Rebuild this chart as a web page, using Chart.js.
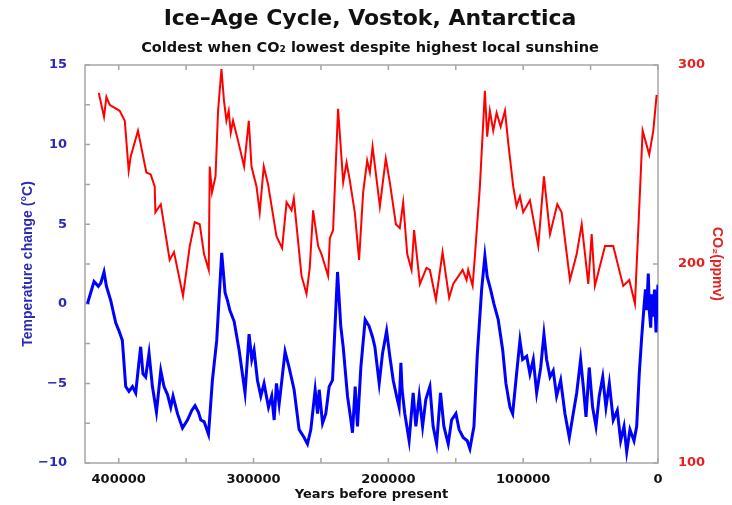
<!DOCTYPE html>
<html>
<head>
<meta charset="utf-8">
<script src="https://cdn.jsdelivr.net/npm/chart.js@4"></script>
<style>
  html, body { margin: 0; padding: 0; background: #ffffff; }
  #wrap { width: 732px; height: 505px; }
</style>
</head>
<body>
<div id="wrap"><canvas id="chart" width="732" height="505"></canvas></div>
<script>
// Vostok ice core, years before present
const tempYears = [
  423200, 418300, 415100, 413300, 410900, 409100, 405900, 402200, 399800, 397300,
  394800, 392400, 389800, 387400, 385400, 383700, 382000, 380000, 377500, 375000,
  372000, 368800, 366400, 363800, 361400, 359700, 356400, 352700, 349000, 345800,
  343400, 340900, 339100, 336700, 333400, 330500, 327300, 323600, 321100, 319300,
  317600, 314400, 310700, 306300, 303300, 301300, 299600, 297100, 294600, 292200,
  288900, 286500, 284700, 283000, 281000, 276600, 273600, 269900, 266200, 262500,
  260000, 257500, 254300, 252500, 251300, 248800, 246400, 243900, 241400, 237700,
  235300, 233500, 230300, 227800, 226600, 224600, 222900, 220400, 217200, 214300,
  211700, 210000, 206800, 204300, 201300, 198900, 196400, 193900, 192000, 190700,
  189800, 187800, 184600, 181600, 179600, 177100, 174600, 172200, 169200, 166800,
  164200, 161300, 158800, 155600, 153100, 149900, 147500, 144500, 141500, 139500,
  136500, 134100, 130800, 128400, 126700, 124200, 121700, 118500, 115200, 112800,
  109800, 107800, 104900, 102400, 100400, 97400, 95000, 92500, 90000, 87000,
  84600, 82600, 80100, 77700, 75200, 72200, 69000, 65800, 62900, 60300,
  57400, 55400, 53400, 51000, 48500, 46000, 43600, 41000, 38600, 36100,
  33200, 30200, 27700, 25200, 23200, 20800, 17800, 15800, 13900, 12100,
  10400, 9300, 8400, 7200, 6400, 5400, 4600, 3500, 2600, 1500,
  700, 0
];
const tempValues = [
  0.0, 1.4, 1.1, 1.3, 2.0, 1.1, 0.2, -1.2, -1.7, -2.3,
  -5.2, -5.5, -5.2, -5.6, -4.0, -2.7, -4.4, -4.6, -3.1, -5.2,
  -6.8, -4.2, -5.2, -5.7, -6.5, -5.8, -6.9, -7.8, -7.3, -6.7,
  -6.4, -6.8, -7.3, -7.4, -8.2, -4.8, -2.3, 3.2, 0.7, 0.2,
  -0.4, -1.1, -2.9, -5.6, -1.9, -3.5, -2.9, -4.8, -5.8, -5.0,
  -6.5, -5.8, -7.3, -5.0, -6.3, -3.0, -4.0, -5.4, -7.9, -8.4,
  -8.8, -7.9, -5.4, -6.9, -5.4, -7.5, -6.9, -5.2, -4.8, 2.0,
  -1.4, -2.7, -5.8, -7.3, -8.1, -5.2, -7.7, -4.0, -1.0, -1.4,
  -2.1, -2.7, -5.0, -3.1, -1.7, -3.3, -4.8, -5.8, -6.5, -3.7,
  -5.4, -6.9, -8.6, -5.6, -7.7, -5.8, -7.7, -6.0, -5.2, -7.7,
  -8.8, -5.6, -7.7, -8.8, -7.3, -6.9, -7.9, -8.4, -8.6, -9.1,
  -7.7, -3.3, 0.9, 3.0, 1.7, 0.9, 0.0, -1.0, -2.9, -5.0,
  -6.5, -6.9, -4.4, -2.3, -3.5, -3.3, -4.4, -3.5, -5.6, -4.0,
  -1.9, -3.5, -4.6, -4.2, -5.8, -4.8, -6.9, -8.4, -6.9, -5.6,
  -3.5, -5.2, -7.1, -4.0, -6.5, -7.7, -5.8, -4.6, -6.5, -5.0,
  -7.3, -6.7, -8.6, -7.7, -9.3, -7.9, -8.6, -7.7, -4.4, -2.1,
  -0.2, 0.9, -0.4, 1.9, -0.5, -1.5, 0.6, -0.8, 0.9, -1.8,
  0.2, 1.2
];

const co2Years = [
  414800, 410900, 409100, 406700, 399300, 395500, 392600, 391100, 385700, 379500,
  376300, 373300, 372800, 368800, 362200, 359000, 352300, 347300, 343600, 339900,
  336700, 333200, 332500, 330800, 328200, 326300, 323800, 321900, 320100, 318400,
  316900, 315200, 311500, 307000, 303500, 301500, 297800, 295400, 292400, 289200,
  283000, 278800, 275500, 271800, 270100, 264400, 260700, 258300, 255800, 252100,
  249600, 244700, 243400, 241000, 237300, 233500, 231000, 228600, 224900, 221700,
  218700, 215700, 213700, 211700, 206300, 201900, 198900, 194400, 191500, 189000,
  186000, 182800, 180900, 176600, 171700, 169200, 164700, 159800, 154900, 151900,
  144900, 142000, 140800, 137500, 135800, 132100, 128400, 126700, 124700, 122200,
  119700, 116700, 113500, 111100, 107400, 104900, 102400, 100000, 95000, 88800,
  84600, 80100, 74700, 71500, 65300, 60300, 56600, 51700, 49200, 46800,
  39300, 33200, 25800, 21300, 17100, 13400, 11400, 6500, 3500, 1000
];
const co2Values = [
  286, 274, 284, 280, 277, 272, 247, 254, 267, 246,
  245, 239, 226, 230, 202, 206, 184, 209, 221, 220,
  205, 197, 249, 236, 244, 277, 298, 282, 272, 277,
  266, 272, 262, 249, 272, 249, 239, 226, 249, 240,
  214, 208, 231, 227, 233, 194, 185, 198, 227, 209,
  205, 194, 213, 217, 278, 241, 251, 242, 226, 202,
  236, 252, 246, 259, 229, 253, 241, 220, 218, 231,
  205, 197, 217, 190, 198, 197, 182, 206, 183, 190,
  197, 192, 197, 189, 204, 239, 287, 264, 277, 267,
  276, 269, 277, 261, 239, 229, 234, 226, 232, 209,
  244, 215, 230, 226, 192, 205, 220, 190, 215, 189,
  209, 209, 189, 192, 180, 236, 267, 255, 267, 285
];

// Axis ticks
const yearTicks = [0, 100000, 200000, 300000, 400000];
const yearMinorTicks = [0, 50000, 100000, 150000, 200000, 250000, 300000, 350000, 400000];
const tempTicks = [-10, -5, 0, 5, 10, 15];
const tempMinorTicks = [-10, -7.5, -5, -2.5, 0, 2.5, 5, 7.5, 10, 12.5, 15];
const co2Ticks = [100, 200, 300];

const BLUE_TEXT = "#2a2ab4";
const RED_TEXT = "#e42020";
const WIDE_FONT = "'DejaVu Sans', sans-serif";
const NARROW_FONT = "'Liberation Sans', Arial, sans-serif";

function toPoints(xs, ys) {
  return xs.map((x, i) => ({ x: x, y: ys[i] }));
}

function fixTicks(values) {
  return (scale) => {
    scale.ticks = values.map((v) => ({ value: v }));
  };
}

// frame round the plot with small inward tick marks
const frameTicks = {
  id: "frameTicks",
  beforeDatasetsDraw(chart) {
    const { ctx, chartArea: a, scales } = chart;
    const len = 5;
    ctx.save();
    ctx.strokeStyle = "#a6a6a6";
    ctx.lineWidth = 1.5;
    ctx.strokeRect(a.left, a.top, a.right - a.left, a.bottom - a.top);
    ctx.beginPath();
    yearMinorTicks.forEach((v) => {
      const x = scales.x.getPixelForValue(v);
      ctx.moveTo(x, a.bottom);
      ctx.lineTo(x, a.bottom - len);
      ctx.moveTo(x, a.top);
      ctx.lineTo(x, a.top + len);
    });
    tempMinorTicks.forEach((v) => {
      const y = scales.y.getPixelForValue(v);
      ctx.moveTo(a.left, y);
      ctx.lineTo(a.left + len, y);
    });
    co2Ticks.forEach((v) => {
      const y = scales.y1.getPixelForValue(v);
      ctx.moveTo(a.right, y);
      ctx.lineTo(a.right - len, y);
    });
    ctx.stroke();
    ctx.restore();
  },
};

const ctx = document.getElementById("chart").getContext("2d");

new Chart(ctx, {
  type: "line",
  data: {
    datasets: [
      {
        label: "Temperature change",
        data: toPoints(tempYears, tempValues),
        yAxisID: "y",
        borderColor: "#0000ff",
        borderWidth: 3,
        pointRadius: 0,
        tension: 0,
      },
      {
        label: "CO2",
        data: toPoints(co2Years, co2Values),
        yAxisID: "y1",
        borderColor: "#ff0000",
        borderWidth: 2,
        pointRadius: 0,
        tension: 0,
      },
    ],
  },
  options: {
    responsive: false,
    animation: false,
    parsing: false,
    layout: { padding: { left: 8, right: 0, top: 0, bottom: 0 } },
    plugins: {
      legend: { display: false },
      tooltip: { enabled: false },
      title: {
        display: true,
        text: "Ice\u2013Age Cycle, Vostok, Antarctica",
        color: "#111111",
        font: { family: WIDE_FONT, size: 22, weight: "bold" },
        padding: { top: 6, bottom: 3 },
      },
      subtitle: {
        display: true,
        text: "Coldest when CO\u2082 lowest despite highest local sunshine",
        color: "#111111",
        font: { family: WIDE_FONT, size: 14.5, weight: "bold" },
        padding: { top: 4, bottom: 8.2 },
      },
    },
    scales: {
      x: {
        type: "linear",
        reverse: true,
        min: 0,
        max: 425000,
        afterBuildTicks: fixTicks(yearTicks),
        afterFit: (s) => { s.height = 42; },
        grid: { display: false },
        border: { display: false },
        ticks: {
          color: "#111111",
          padding: 1,
          font: { family: WIDE_FONT, size: 13, weight: "bold" },
          callback: (v) => String(v),
        },
        title: {
          display: true,
          text: "Years before present",
          color: "#111111",
          font: { family: WIDE_FONT, size: 13, weight: "bold" },
          padding: { top: 0, bottom: 3 },
        },
      },
      y: {
        position: "left",
        min: -10,
        max: 15,
        afterBuildTicks: fixTicks(tempTicks),
        afterFit: (s) => { s.width = 77; },
        grid: { display: false },
        border: { display: false },
        ticks: {
          color: BLUE_TEXT,
          padding: 10,
          font: { family: WIDE_FONT, size: 13, weight: "bold" },
          callback: (v) => (v < 0 ? "\u2212" + Math.abs(v) : String(v)),
        },
        title: {
          display: true,
          text: "Temperature change (\u00b0C)",
          color: BLUE_TEXT,
          font: { family: NARROW_FONT, size: 14, weight: "bold" },
          padding: { top: 12, bottom: 0 },
        },
      },
      y1: {
        position: "right",
        min: 100,
        max: 300,
        afterBuildTicks: fixTicks(co2Ticks),
        afterFit: (s) => { s.width = 74; },
        grid: { display: false },
        border: { display: false },
        ticks: {
          color: RED_TEXT,
          padding: 12,
          font: { family: WIDE_FONT, size: 13, weight: "bold" },
          callback: (v) => String(v),
        },
        title: {
          display: true,
          text: "CO\u2082(ppmv)",
          color: RED_TEXT,
          font: { family: NARROW_FONT, size: 14, weight: "bold" },
          padding: { top: 7, bottom: 0 },
        },
      },
    },
  },
  plugins: [frameTicks],
});
</script>
</body>
</html>
